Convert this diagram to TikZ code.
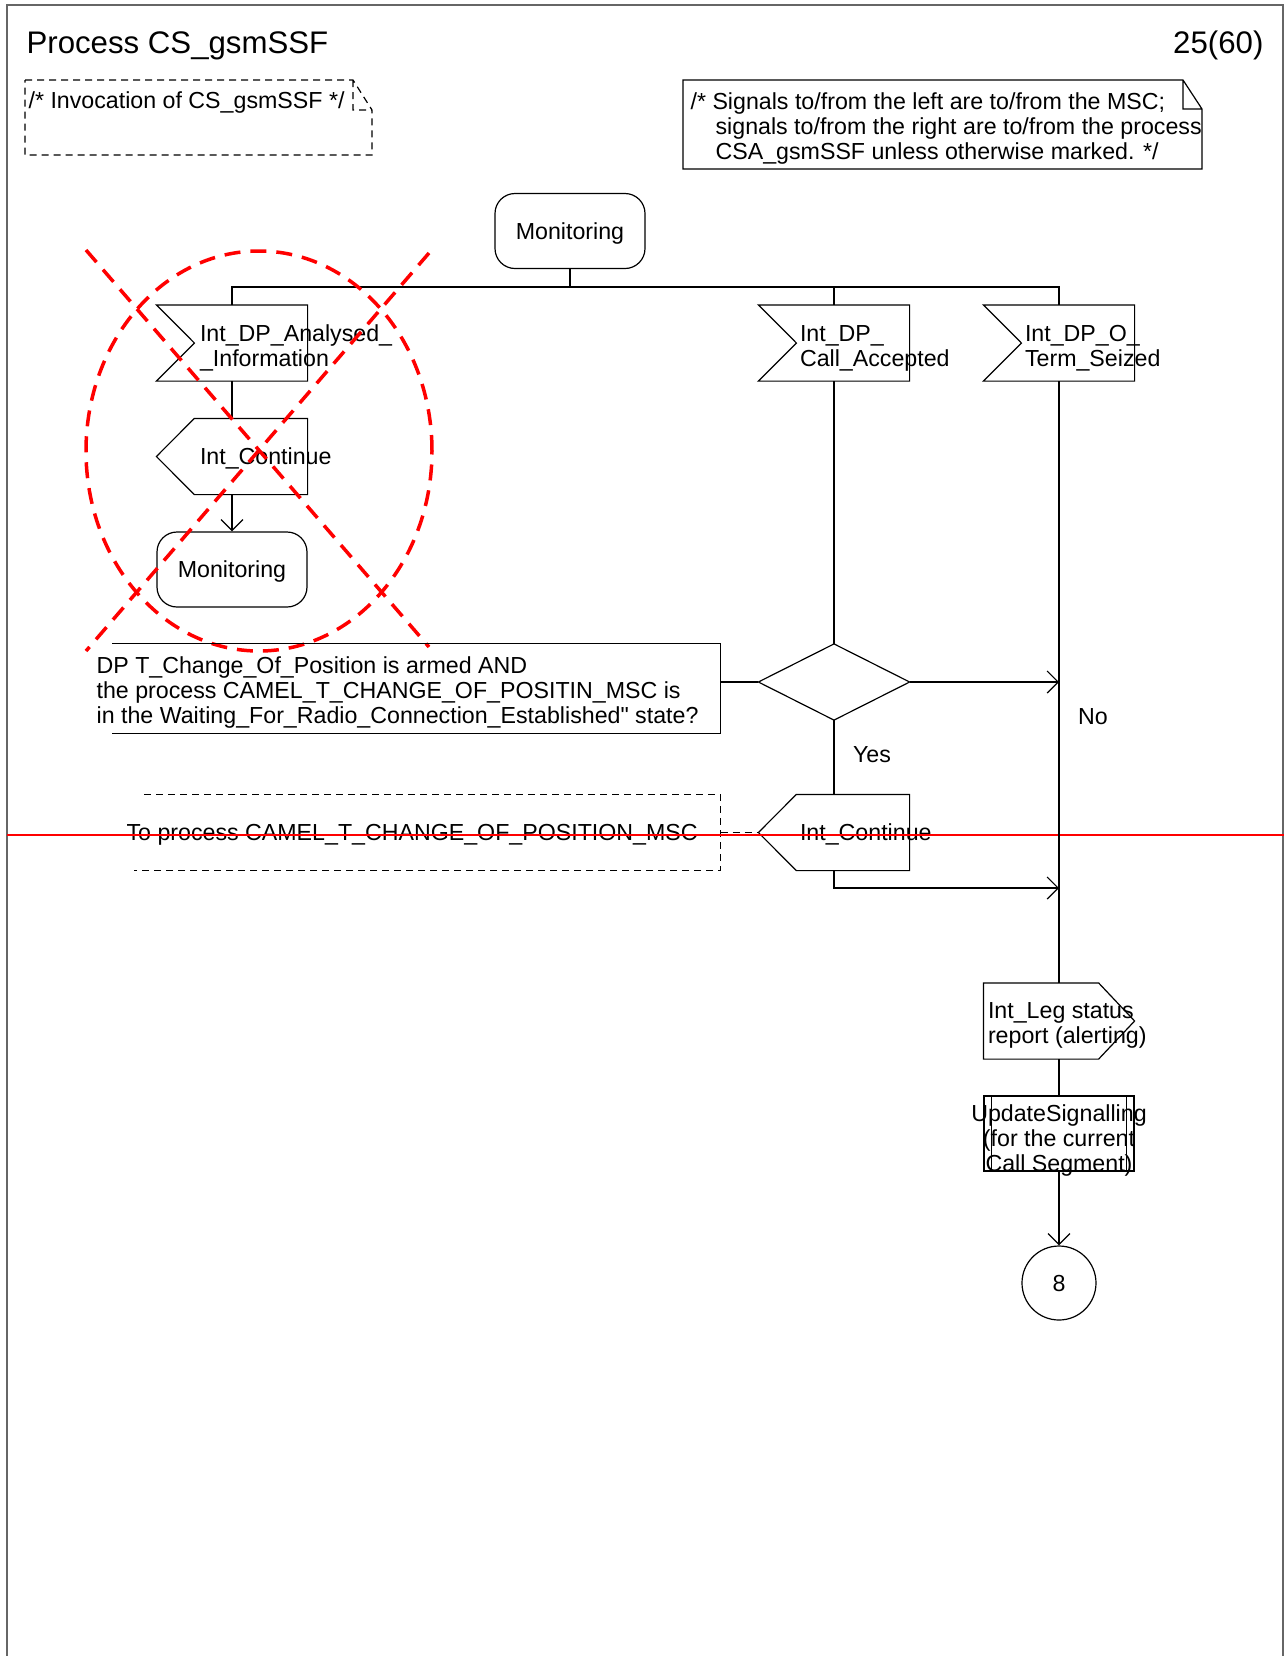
\documentclass[tikz,border=0pt]{standalone}
\usepackage{fontspec}
\setmainfont{Liberation Sans}
\newfontfamily\plainsans{Liberation Sans}
\usetikzlibrary{arrows.meta}

\tikzset{
  every node/.append style={font=\fontsize{11.6}{12.6}\selectfont, inner sep=0pt},
  lbl/.style={yshift=-1.1pt},
  sigbox/.style={minimum width=75pt, minimum height=37.5pt},
  statebox/.style={draw, rounded corners=10pt, text depth=0pt, minimum width=75pt, minimum height=37.5pt},
  flow/.style={-{Straight Barb[length=5.5pt,width=11pt]}},
  crossout/.style={red, line width=1.75pt, dash pattern=on 8pt off 5pt},
  notedash/.style={dash pattern=on 3.5pt off 2.5pt},
  bigfont/.style={font=\fontsize{15.6}{17}\selectfont}
}

\begin{document}
\begin{tikzpicture}[x=0.5pt, y=-0.5pt, line width=0.6pt]
    \useasboundingbox (0,0) rectangle (1284,1656);
    \draw[black!60, line width=0.9pt] (7,1700) -- (7,5) -- (1283,5) -- (1283,1700);

    % header and comments
    \node[bigfont, anchor=base west] (title) at (26,53) {Process CS\_gsmSSF};
    \node[bigfont, anchor=base east] (pagenr) at (1264,53) {25(60)};
    \draw[notedash] (25,80) -- (353,80) -- (372,110) -- (372,155) -- (25,155) -- cycle
        (353,80) -- (353,110) -- (372,110);
    \node[anchor=base west] (invocation) at (28,108) {/* Invocation of CS\_gsmSSF */};
    \draw (683,80) -- (1183,80) -- (1202,109) -- (1202,169) -- (683,169) -- cycle
        (1183,80) -- (1183,109) -- (1202,109);
    \node[lbl, anchor=west, align=left] (signals) at (690,126)
        {/* Signals to/from the left are to/from the MSC;\\
         \hspace*{12.5pt}signals to/from the right are to/from the process\\
         \hspace*{12.5pt}CSA\_gsmSSF unless otherwise marked. */};

    % start state and inputs
    \node[statebox] (monTop) at (570,231) {Monitoring};
    \node[sigbox] (inAnalysed) at (232,343) {};
    \node[sigbox] (inCallAcc) at (834,343) {};
    \node[sigbox] (inTermSeized) at (1059,343) {};
    \foreach \s in {inAnalysed,inCallAcc,inTermSeized}
        \draw (\s.north west) -- (\s.north east) -- (\s.south east)
            -- (\s.south west) -- ([xshift=19pt]\s.west) -- cycle;
    \node[lbl, anchor=west, align=left] (inAnalysedTxt) at ([xshift=21.5pt,yshift=-1.5pt]inAnalysed.west)
        {Int\_DP\_Analysed\_\\\_Information};
    \node[lbl, anchor=west, align=left] (inCallAccTxt) at ([xshift=20.5pt,yshift=-1.5pt]inCallAcc.west)
        {Int\_DP\_\\Call\_Accepted};
    \node[lbl, anchor=west, align=left] (inTermSeizedTxt) at ([xshift=20.5pt,yshift=-1.5pt]inTermSeized.west)
        {Int\_DP\_O\_\\Term\_Seized};

    \coordinate (split) at (570,287);
    \draw (monTop.south) -- (split);
    \draw (inAnalysed.north) |- (split) -| (inTermSeized.north);
    \draw (inCallAcc.north) -- (inCallAcc.north |- split);

    % left branch, crossed out
    \node[sigbox] (outContL) at (232,456.5) {};
    \draw (outContL.west) -- ([xshift=19pt]outContL.north west) -- (outContL.north east)
        -- (outContL.south east) -- ([xshift=19pt]outContL.south west) -- cycle;
    \node[lbl, anchor=west] (outContLTxt) at ([xshift=21.5pt]outContL.west) {Int\_Continue};
    \node[statebox] (monLeft) at (232,569.5) {Monitoring};
    \draw (inAnalysed.south) -- (outContL.north);
    \draw[flow] (outContL.south) -- (monLeft.north);

    \draw[crossout] (259,451) ellipse [x radius=86.5pt, y radius=100pt];
    \draw[crossout] (86,250) -- (429,647);
    \draw[crossout] (429,253) -- (86,651);

    % decision
    \node[sigbox] (dec) at (834,682) {};
    \draw (dec.west) -- (dec.north) -- (dec.east) -- (dec.south) -- cycle;
    \node[minimum width=303.5pt, minimum height=44.5pt] (decBox) at (416.5,688.5) {};
    \draw (decBox.north west) -- (decBox.north east) -- (decBox.south east) -- (decBox.south west);
    \node[lbl, anchor=west, align=left] (decTxt) at (96,690)
        {DP T\_Change\_Of\_Position is armed AND\\
         the process CAMEL\_T\_CHANGE\_OF\_POSITIN\_MSC is\\
         in the Waiting\_For\_Radio\_Connection\_Established{\plainsans"} state?};
    \draw (decBox.east |- dec.west) -- (dec.west);
    \draw (inCallAcc.south) -- (dec.north);
    \draw[flow] (dec.east) -- (dec.east -| inTermSeized);
    \node[lbl] (noLbl) at (1093,714) {No};
    \node[lbl] (yesLbl) at (872,752) {Yes};

    % yes branch
    \node[sigbox] (outContR) at (834,832.5) {};
    \draw (outContR.west) -- ([xshift=19pt]outContR.north west) -- (outContR.north east)
        -- (outContR.south east) -- ([xshift=19pt]outContR.south west) -- cycle;
    \node[lbl, anchor=west] (outContRTxt) at ([xshift=20.5pt]outContR.west) {Int\_Continue};
    \draw (dec.south) -- (outContR.north);
    \node[minimum width=290pt, minimum height=37.5pt] (toProc) at (430,832.5) {};
    \draw[notedash] ([xshift=2.5pt]toProc.north west) -- (toProc.north east)
        -- (toProc.south east) -- ([xshift=-2.5pt]toProc.south west);
    \node[lbl, anchor=west] (toProcTxt) at (126,833) {To process CAMEL\_T\_CHANGE\_OF\_POSITION\_MSC};
    \draw[notedash] (toProc.east) -- (outContR.west);
    \coordinate (merge) at (1059,888);
    \draw[flow] (outContR.south) |- (merge);

    \draw[red, line width=0.8pt] (7,835) -- (1284,835);

    % right column
    \node[sigbox] (outLeg) at (1059,1021) {};
    \draw (outLeg.north west) -- ([xshift=-18pt]outLeg.north east) -- (outLeg.east)
        -- ([xshift=-18pt]outLeg.south east) -- (outLeg.south west) -- cycle;
    \node[lbl, anchor=west, align=left] (outLegTxt) at ([xshift=2pt,yshift=-1pt]outLeg.west)
        {Int\_Leg status\\report (alerting)};
    \draw (inTermSeized.south) -- (outLeg.north);
    \draw[line width=1.1pt] (merge) -- (outLeg.north);

    \node[sigbox, draw] (updSig) at (1059,1133.5) {};
    \draw ([xshift=4pt]updSig.north west) -- ([xshift=4pt]updSig.south west)
        ([xshift=-4pt]updSig.north east) -- ([xshift=-4pt]updSig.south east);
    \node[lbl, align=center] (updSigTxt) at (1059,1138)
        {UpdateSignalling\\(for the current\\Call Segment)};
    \draw (outLeg.south) -- (updSig.north);

    \node[draw, circle, text depth=0pt, minimum size=37pt] (conn8) at (1059,1283) {8};
    \draw[flow] (updSig.south) -- (conn8.north);
\end{tikzpicture}
\end{document}
